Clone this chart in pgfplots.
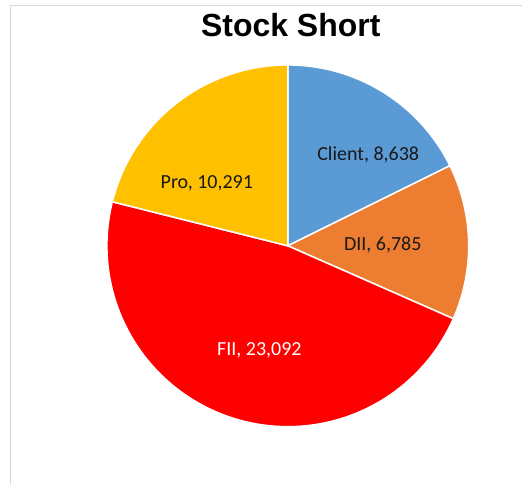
\documentclass[border=0pt]{standalone}
\usepackage{pgfplots}
\pgfplotsset{compat=1.18}
\usepackage{fontspec}
\setmainfont{Carlito}
\newfontfamily\titlefont{Liberation Sans}
\definecolor{cClient}{HTML}{5B9BD5}
\definecolor{cDII}{HTML}{ED7D31}
\definecolor{cFII}{HTML}{FF0000}
\definecolor{cPro}{HTML}{FFC000}
\definecolor{frame}{HTML}{D9D9D9}
% data
\def\vClient{8638}\def\vDII{6785}\def\vFII{23092}\def\vPro{10291}
\edef\tot{\fpeval{\vClient+\vDII+\vFII+\vPro}}
\edef\aA{\fpeval{round(90-360*\vClient/\tot,3)}}
\edef\aB{\fpeval{round(\aA-360*\vDII/\tot,3)}}
\edef\aC{\fpeval{round(\aB-360*\vFII/\tot,3)}}
\edef\aD{\fpeval{round(\aC-360*\vPro/\tot,3)}}
\begin{document}
\begin{tikzpicture}
\begin{axis}[
  scale only axis, width=522bp, height=485bp,
  xmin=0, xmax=522, ymin=0, ymax=485,
  hide axis, clip=false,
]
\path (axis cs:0,0) rectangle (axis cs:522,485);
\draw[frame, line width=0.8pt] (axis cs:10,0) -- (axis cs:10,480) -- (axis cs:522,480);
\addplot[fill=cClient, draw=white, line width=1.5pt, domain=\aA:90, samples=80]
  ({288+181*cos(x)}, {239+181*sin(x)}) -- (axis cs:288,239) -- cycle;
\addplot[fill=cDII, draw=white, line width=1.5pt, domain=\aB:\aA, samples=80]
  ({288+181*cos(x)}, {239+181*sin(x)}) -- (axis cs:288,239) -- cycle;
\addplot[fill=cFII, draw=white, line width=1.5pt, domain=\aC:\aB, samples=160]
  ({288+181*cos(x)}, {239+181*sin(x)}) -- (axis cs:288,239) -- cycle;
\addplot[fill=cPro, draw=white, line width=1.5pt, domain=\aD:\aC, samples=80]
  ({288+181*cos(x)}, {239+181*sin(x)}) -- (axis cs:288,239) -- cycle;
\node[anchor=base, font=\fontsize{20bp}{23bp}\selectfont, text=black!90] at (axis cs:368.5,324) {Client, 8,638};
\node[anchor=base, font=\fontsize{20bp}{23bp}\selectfont, text=black!90] at (axis cs:383,234.5) {DII, 6,785};
\node[anchor=base, font=\fontsize{20bp}{23bp}\selectfont, text=white] at (axis cs:259.5,129) {FII, 23,092};
\node[anchor=base, font=\fontsize{20bp}{23bp}\selectfont, text=black!90] at (axis cs:207,296) {Pro, 10,291};
\node[anchor=base, font=\titlefont\bfseries\fontsize{32bp}{36bp}\selectfont] at (axis cs:291,448) {Stock Short};
\end{axis}
\end{tikzpicture}
\end{document}
